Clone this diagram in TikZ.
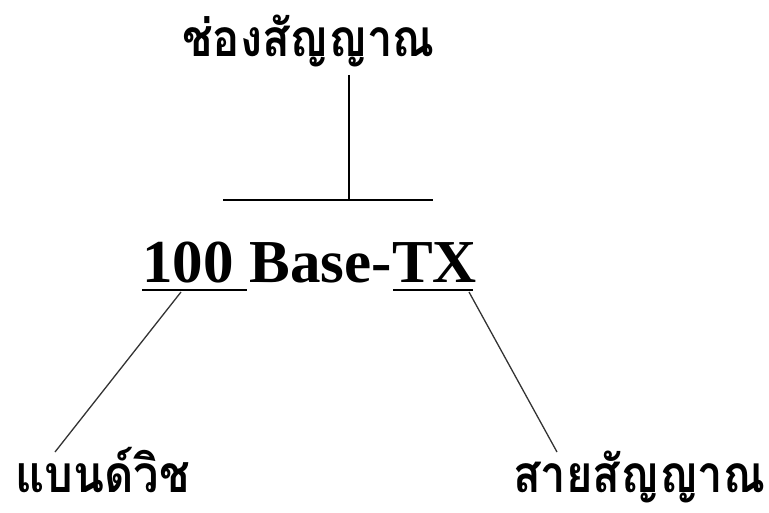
\documentclass[tikz,border=0pt]{standalone}
\usepackage{fontspec}
\setmainfont{Liberation Serif}
\newfontfamily\thaifont[Script=Thai]{Loma}
\begin{document}
\begin{tikzpicture}[x=1pt,y=-1pt,
		thai/.style={font=\thaifont\bfseries\fontsize{51.5}{52}\selectfont, xscale=0.88, inner sep=0pt, anchor=base west},
		eng/.style={font=\bfseries\fontsize{61}{61}\selectfont, inner sep=0pt, anchor=base west},
		rule/.style={line width=2.5pt},
		lead/.style={line width=1.3pt, black!80}]
		\useasboundingbox (0,0) rectangle (769,513);
		
		% channel label and its bracket
		\node[thai] (chan) at (182,57) {ช่องสัญญาณ};
		\coordinate (stem) at (349,75);
		\coordinate (bar) at (349,200);
		\coordinate (barL) at (223,200);
		\coordinate (barR) at (433,200);
		\draw[rule] (stem) -- (bar);
		\draw[rule] (barL) -- (barR);
		
		% standard name, split so the parts can be underlined
		\node[eng] (num) at (142,283) {100\ \null};
		\node[eng] (mid) at (num.base east) {Base-};
		\node[eng] (tx) at (mid.base east) {TX};
		\coordinate (numL) at (142,290);
		\coordinate (numR) at (247,290);
		\coordinate (txL) at (393,290);
		\coordinate (txR) at (473,290);
		\draw[rule] (numL) -- (numR);
		\draw[rule] (txL) -- (txR);
		
		% bottom labels
		\node[thai, text depth=0pt] (band) at (15,492) {แบนด์วิช};
		\node[thai, text depth=0pt] (cable) at (513,492) {สายสัญญาณ};
		\coordinate (bandTip) at (55,452);
		\coordinate (cableTip) at (557,452);
		\draw[lead] (181,292) -- (bandTip);
		\draw[lead] (469,292) -- (cableTip);
	\end{tikzpicture}
\end{document}
